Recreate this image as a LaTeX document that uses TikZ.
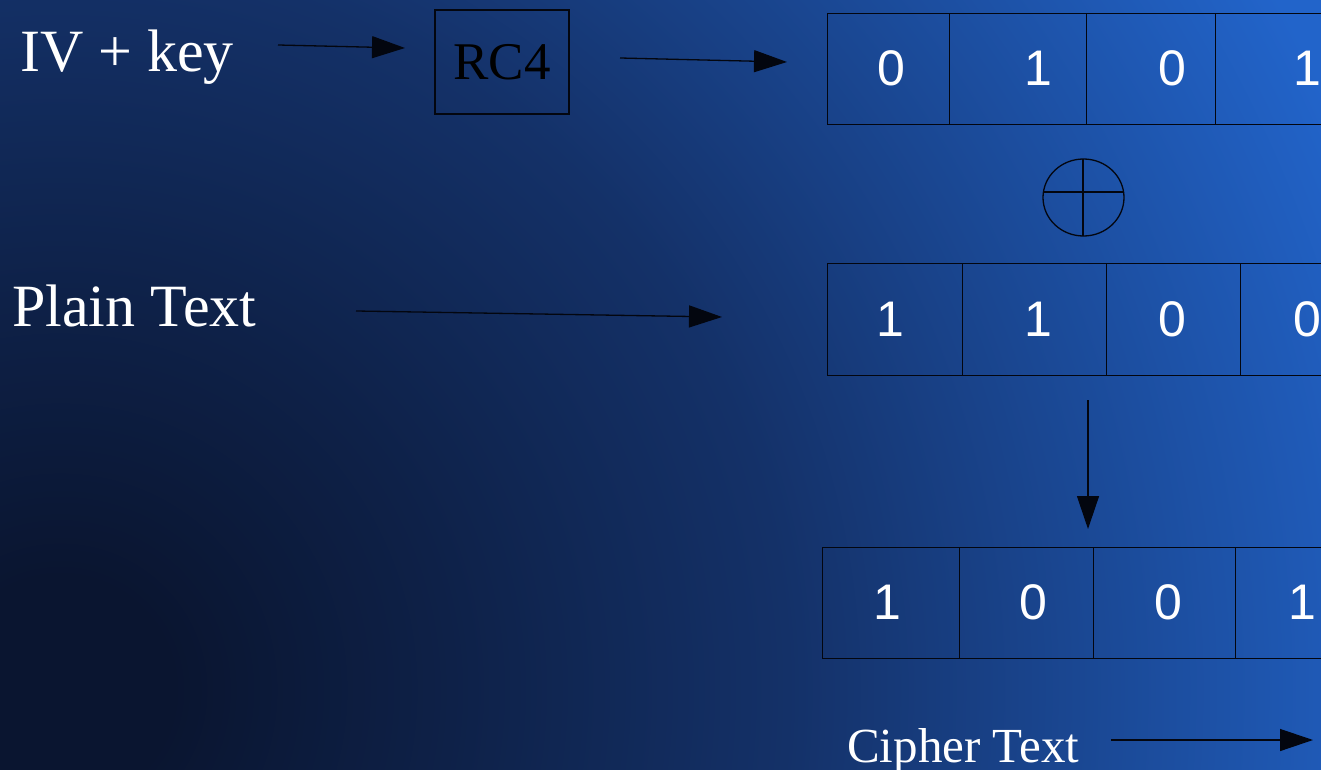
\documentclass[tikz,border=0pt]{standalone}
\usepackage{fontspec}
\setmainfont{Liberation Serif}
\newfontfamily\digitfont{Liberation Sans}
\usetikzlibrary{arrows.meta,shapes.geometric}

\definecolor{bgcore}{HTML}{0A1530}
\definecolor{bginner}{HTML}{0E2148}
\definecolor{bgmid}{HTML}{143168}
\definecolor{bgedge}{HTML}{2264CA}
\definecolor{inkline}{HTML}{03060F}

% dark core in the lower left, brightening towards the upper right;
% the shaded circle's radius corresponds to 25bp of the shading
\pgfdeclareradialshading{backdrop}{\pgfpoint{0bp}{0bp}}{%
  color(0bp)=(bgcore); color(1bp)=(bgcore); color(3.5bp)=(bginner);
  color(6.5bp)=(bgmid); color(12.5bp)=(bgedge); color(50bp)=(bgedge)}

\begin{document}
\begin{tikzpicture}[x=1pt,y=-1pt,
  wire/.style={draw=inkline, line width=1.3pt},
  flow/.style={wire, -{Triangle[length=33pt,width=22pt]}},
  caption/.style={text=white, inner sep=0pt, anchor=base west,
    font=\fontsize{60}{60}\selectfont},
  cell/.style={wire, anchor=north west, inner sep=0pt, minimum height=#1},
  bit/.style={text=white, inner sep=0pt, font=\digitfont\fontsize{50}{50}\selectfont}]

\useasboundingbox (0,0) rectangle (1321,770);
\clip (0,0) rectangle (1321,770);
\shade[shading=backdrop] (60,690) circle[radius=2800];

% labels on the left
\node[caption] (ivkey) at (20,72) {IV + key};
\node[caption] (plain) at (12,326) {Plain Text};
\node[caption, font=\fontsize{49}{49}\selectfont] (cipher) at (847,762) {Cipher Text};

% cipher box
\node[wire, minimum width=134pt, minimum height=104pt, inner sep=0pt,
  text=black, font=\fontsize{53}{53}\selectfont] (rc4) at (502,62) {RC4};

% key stream row
\node[cell=111pt, minimum width=122pt] (k1) at (827,13) {};
\node[cell=111pt, minimum width=137pt] (k2) at (949,13) {};
\node[cell=111pt, minimum width=129pt] (k3) at (1086,13) {};
\node[cell=111pt, minimum width=140pt] (k4) at (1215,13) {};
\node[bit] (kb1) at (891,68) {0};
\node[bit] (kb2) at (1038,68) {1};
\node[bit] (kb3) at (1172,68) {0};
\node[bit] (kb4) at (1307,68) {1};

% xor symbol
\node[wire, ellipse, minimum width=81pt, minimum height=77pt, inner sep=0pt] (xor) at (1083.5,197.5) {};
\begin{scope}
  \clip (1083.5,197.5) ellipse[x radius=40.5, y radius=38.5];
  \draw[wire] (1040,192) -- (1130,192);
  \draw[wire] (1083,155) -- (1083,240);
\end{scope}

% plain text row
\node[cell=112pt, minimum width=135pt] (p1) at (827,263) {};
\node[cell=112pt, minimum width=144pt] (p2) at (962,263) {};
\node[cell=112pt, minimum width=134pt] (p3) at (1106,263) {};
\node[cell=112pt, minimum width=120pt] (p4) at (1240,263) {};
\node[bit] (pb1) at (890,319) {1};
\node[bit] (pb2) at (1038,319) {1};
\node[bit] (pb3) at (1172,319) {0};
\node[bit] (pb4) at (1307,319) {0};

% cipher text row
\node[cell=111pt, minimum width=137pt] (c1) at (822,547) {};
\node[cell=111pt, minimum width=134pt] (c2) at (959,547) {};
\node[cell=111pt, minimum width=142pt] (c3) at (1093,547) {};
\node[cell=111pt, minimum width=120pt] (c4) at (1235,547) {};
\node[bit] (cb1) at (887,602) {1};
\node[bit] (cb2) at (1033,602) {0};
\node[bit] (cb3) at (1168,602) {0};
\node[bit] (cb4) at (1302,602) {1};

% arrow end points
\coordinate (ivout) at (278,45);
\coordinate (rc4in) at (405,48);
\coordinate (rc4out) at (620,58);
\coordinate (keyin) at (787,62);
\coordinate (plainout) at (356,311);
\coordinate (plainin) at (722,317);
\coordinate (xorout) at (1088,400);
\coordinate (cipherin) at (1088,529);
\coordinate (cipherfrom) at (1111,740);
\coordinate (cipherto) at (1313,740);

\draw[flow] (ivout) -- (rc4in);
\draw[flow] (rc4out) -- (keyin);
\draw[flow] (plainout) -- (plainin);
\draw[flow] (xorout) -- (cipherin);
\draw[flow] (cipherfrom) -- (cipherto);
\end{tikzpicture}
\end{document}
